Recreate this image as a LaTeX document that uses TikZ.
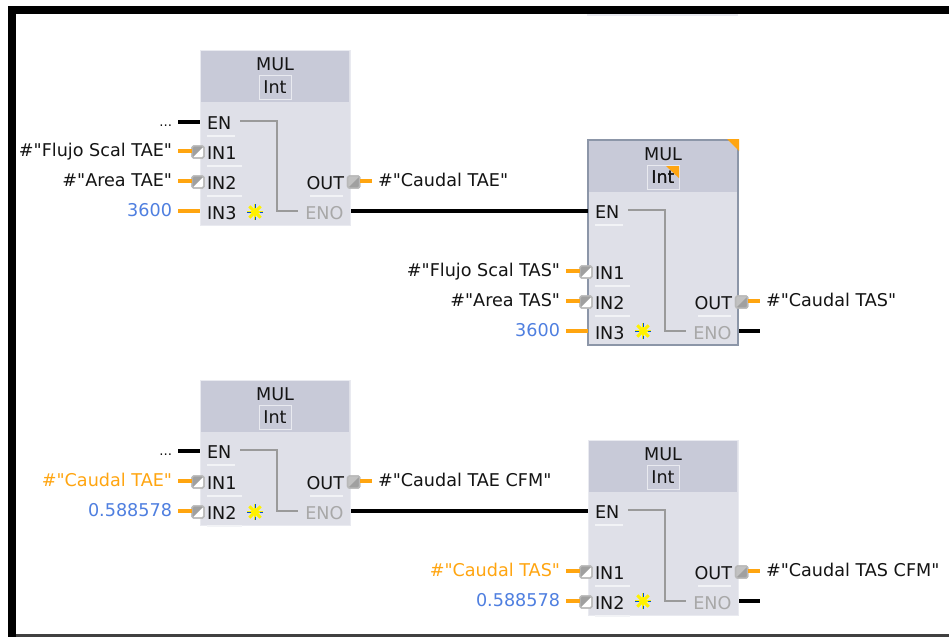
\documentclass[tikz,border=0pt]{standalone}
\usepackage{fontspec}
\setmainfont{DejaVu Sans}[Ligatures=TeXOff]
\usetikzlibrary{calc}
\definecolor{wireorange}{HTML}{FFA510}
\definecolor{valblue}{HTML}{4F7FE0}
\definecolor{bodyfill}{HTML}{DFE0E8}
\definecolor{headfill}{HTML}{C8CAD8}
\definecolor{edgefill}{HTML}{E9EAF0}
\definecolor{selframe}{HTML}{8C96A8}
\definecolor{enogray}{HTML}{A8A8A8}
\definecolor{bypassgray}{HTML}{9A9A9A}
\definecolor{pingray}{HTML}{A0A0A0}
\definecolor{pinedge}{HTML}{B8B8B8}
\definecolor{uwhite}{HTML}{F2F3F6}
\tikzset{
  x=0.75pt,y=-0.75pt,
  txt/.style={inner sep=0pt,outer sep=0pt,font=\fontsize{13.2}{15}\selectfont,text=black!92},
  lblr/.style={txt,anchor=base east},
  lbll/.style={txt,anchor=base west},
  lblc/.style={txt,anchor=base},
  blockbox/.style={draw=edgefill,line width=0.75pt,fill=bodyfill,inner sep=0pt,outer sep=0pt,anchor=north west},
  headbox/.style={fill=headfill,inner sep=0pt,outer sep=0pt,anchor=north west},
  intbox/.style={draw=edgefill,line width=0.75pt,fill=headfill,inner sep=0pt,outer sep=0pt,minimum width=24pt,minimum height=18pt},
  pinbox/.style={draw=pinedge,line width=1.1pt,rounded corners=1.2pt,fill=white,inner sep=0pt,outer sep=0pt,minimum size=9pt},
  owire/.style={draw=wireorange,line width=2.3pt},
  bwire/.style={draw=black,line width=2.3pt},
  bypass/.style={draw=bypassgray,line width=1.1pt},
  uline/.style={draw=uwhite,line width=0.8pt},
  corner/.style={fill=wireorange},
  bar/.style={fill=black},
}
% #1 id, #2 left x, #3 top y, #4 EN wire y, #5 ENO wire y
\newcommand\mulblock[5]{%
  \node[blockbox,minimum width=112.5pt,minimum height=\fpeval{(#5+14-#3)*0.75}pt] (#1) at (#2,#3) {};
  \node[headbox,minimum width=111.5pt,minimum height=38.5pt] (#1h) at (#2+0.7,#3+0.7) {};
  \node[lblc] (#1t) at (#2+75,#3+20) {MUL};
  \node[intbox] (#1i) at (#2+75,#3+37) {};
  \node[lblc] (#1n) at (#2+75,#3+43) {Int};
  \node[lbll] (#1en) at (#2+7,#4+7) {EN};
  \draw[uline] (#2+7,#4+14) -- (#2+35,#4+14);
  \node[lblr,text=enogray] (#1eno) at (#2+143.5,#5+8) {ENO};
  \coordinate (#1a) at (#2+40,#4-1);
  \coordinate (#1b) at (#2+77,#4-1);
  \coordinate (#1c) at (#2+77,#5);
  \coordinate (#1d) at (#2+98,#5);
  \draw[bypass] (#1a) -- (#1b) -- (#1c) -- (#1d);
  \coordinate (#1enw) at (#2,#4);
  \coordinate (#1enow) at (#2+151,#5);
}
% #1 id, #2 block x, #3 wire y, #4 pin text, #5 outer label, #6 colour
\newcommand\boxedin[6]{%
  \node[pinbox] (#1) at (#2-2,#3+1) {};
  \fill[pingray] (#1.north west) -- (#1.north east) -- (#1.south west) -- cycle;
  \draw[draw=pinedge,line width=1.1pt,rounded corners=1.2pt] (#1.north west) rectangle (#1.south east);
  \node[lblr,text=#6] (#1l) at (#2-28,#3+5) {#5};
  \coordinate (#1w) at (#2-22,#3);
  \draw[owire] (#1w) -- (#1.west|-#1w);
  \node[lbll] (#1p) at (#2+7,#3+8) {#4};
  \draw[uline] (#2+7,#3+15) -- (#2+42,#3+15);
}
\newcommand\plainin[6]{%
  \node[lblr,text=#6] (#1l) at (#2-28,#3+5) {#5};
  \coordinate (#1w) at (#2-22,#3);
  \coordinate (#1e) at (#2,#3);
  \draw[owire] (#1w) -- (#1e);
  \node[lbll] (#1p) at (#2+7,#3+8) {#4};
}
% #1 id, #2 block x, #3 wire y, #4 outer label
\newcommand\outpin[4]{%
  \node[pinbox] (#1) at (#2+153.7,#3+1) {};
  \fill[pingray] (#1.north east) -- (#1.south east) -- (#1.south west) -- cycle;
  \fill[pingray!65] (#1.north west) -- (#1.north east) -- (#1.south west) -- cycle;
  \draw[draw=pinedge,line width=1.1pt,rounded corners=1.2pt] (#1.north west) rectangle (#1.south east);
  \coordinate (#1w) at (#2+172,#3);
  \draw[owire] (#1.east|-#1w) -- (#1w);
  \node[lbll] (#1l) at (#2+178,#3+5) {#4};
  \node[lblr] (#1p) at (#2+144,#3+8) {OUT};
  \draw[uline] (#2+110,#3+15) -- (#2+143,#3+15);
}
% #1 id, #2 x, #3 y
\newcommand\newstar[3]{%
  \coordinate (#1) at (#2,#3);
  \foreach \a in {0,45,...,315}{
    \draw[yellow,line width=2.2pt] (#1) -- ++(\a:8);
  }
  \foreach \a in {0,90,180,270}{
    \draw[blue!60!cyan!80!black,line width=0.6pt] ($(#1)+(\a:4.5)$) -- ++(\a:3.5);
  }
  \fill[yellow] (#1) circle (3.6);
}
\begin{document}
\begin{tikzpicture}
\useasboundingbox (0,0) rectangle (949,637);
\fill[white] (0,0) rectangle (949,637);
% page frame
\fill[edgefill] (587,14) rectangle (738,15.5);
\fill[bar] (8,6) rectangle (949,14);
\fill[bar] (8,6) rectangle (16,637);
\fill[black!75] (16,634) rectangle (949,637);

% block 1
\mulblock{A}{200}{50}{122}{211}
\node[lblr,font=\fontsize{10}{12}\selectfont] (Adots) at (172,126) {...};
\coordinate (Aenf) at (178,122);
\draw[bwire] (Aenf) -- (Aenw);
\boxedin{Ai1}{200}{151}{IN1}{\#"Flujo Scal TAE"}{black!92}
\boxedin{Ai2}{200}{181}{IN2}{\#"Area TAE"}{black!92}
\plainin{Ai3}{200}{211}{IN3}{3600}{valblue}
\outpin{Ao}{200}{181}{\#"Caudal TAE"}
\newstar{As}{255}{212}

% block 2 (selected)
\mulblock{B}{588}{140}{211}{331}
\draw[selframe,line width=2.2pt] (B.north west) rectangle (B.south east);
\fill[corner] (727,139) -- (739,139) -- (739,151) -- cycle;
\fill[corner] (666,166) -- (679,166) -- (679,178) -- cycle;
\node[lblc] (Bn2) at (663,183) {Int};
\boxedin{Bi1}{588}{271}{IN1}{\#"Flujo Scal TAS"}{black!92}
\boxedin{Bi2}{588}{301}{IN2}{\#"Area TAS"}{black!92}
\plainin{Bi3}{588}{331}{IN3}{3600}{valblue}
\outpin{Bo}{588}{301}{\#"Caudal TAS"}
\newstar{Bs}{643}{331}
\coordinate (Bend) at (760,331);
\draw[bwire] (Benow) -- (Bend);
\draw[bwire] (Aenow) -- (Benw);

% block 3
\mulblock{C}{200}{380}{451}{511}
\node[lblr,font=\fontsize{10}{12}\selectfont] (Cdots) at (172,455) {...};
\coordinate (Cenf) at (178,451);
\draw[bwire] (Cenf) -- (Cenw);
\boxedin{Ci1}{200}{481}{IN1}{\#"Caudal TAE"}{wireorange}
\boxedin{Ci2}{200}{511}{IN2}{0.588578}{valblue}
\outpin{Co}{200}{481}{\#"Caudal TAE CFM"}
\newstar{Cs}{255}{512}

% block 4
\mulblock{D}{588}{440}{511}{601}
\boxedin{Di1}{588}{571}{IN1}{\#"Caudal TAS"}{wireorange}
\boxedin{Di2}{588}{601}{IN2}{0.588578}{valblue}
\outpin{Do}{588}{571}{\#"Caudal TAS CFM"}
\newstar{Ds}{643}{601}
\coordinate (Dend) at (760,601);
\draw[bwire] (Denow) -- (Dend);
\draw[bwire] (Cenow) -- (Denw);
\end{tikzpicture}
\end{document}
